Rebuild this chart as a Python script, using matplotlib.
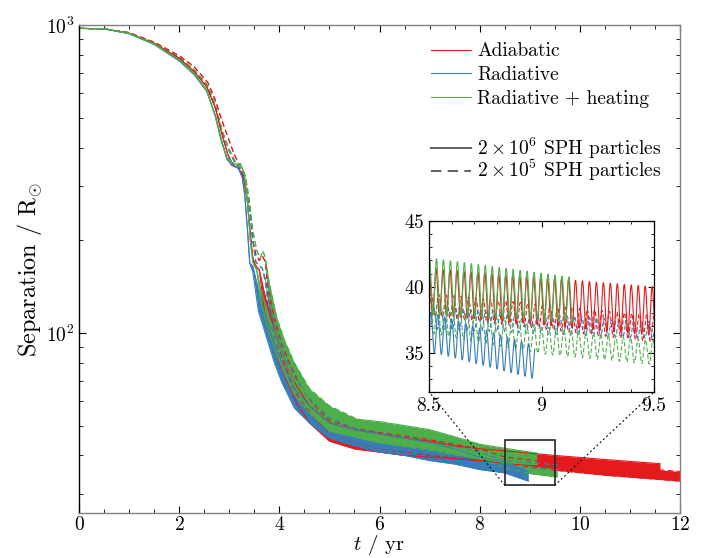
import numpy as np
import matplotlib
matplotlib.use('Agg')
import matplotlib.pyplot as plt
from matplotlib.patches import Rectangle, ConnectionPatch
from matplotlib.lines import Line2D
from matplotlib.ticker import MultipleLocator, LogLocator, NullFormatter

plt.rcParams['font.family'] = ['cmr10', 'DejaVu Serif']
plt.rcParams['mathtext.fontset'] = 'cm'
plt.rcParams['axes.formatter.use_mathtext'] = True
plt.rcParams['axes.unicode_minus'] = False

red = '#e41a1c'
blue = '#377eb8'
green = '#4daf4a'

# --- separation envelopes (upper, lower), R_sun ---
# 2e6 particles (solid)
adi_hi_t = [0, 0.5, 1.0, 1.5, 2.0, 2.3, 2.55, 2.72, 2.85, 2.97, 3.07, 3.2, 3.28, 3.36, 3.42, 3.47, 3.52, 3.6, 3.7, 3.85, 4.0, 4.15, 4.35, 4.6, 5.0, 5.5, 6.0, 6.5, 7.0, 7.5, 8.0, 8.5, 9.5, 10.5, 11.6]
adi_hi_up = [975, 972, 940, 872, 780, 705, 630, 540, 445, 380, 352, 340, 320, 270, 210, 175, 166, 160, 135, 108, 90, 78, 67, 58, 51, 48.5, 47, 45.5, 44.5, 43, 42, 41.4, 40, 38.8, 37.6]
adi_hi_lo = [975, 972, 940, 872, 780, 705, 630, 540, 445, 380, 352, 340, 320, 270, 210, 175, 166, 160, 118, 96, 80, 70, 59, 51, 44.5, 42, 41, 40, 39.5, 39, 38.5, 37.9, 36.3, 35.7, 35.0]

rad_hi_t = [0, 0.5, 1.0, 1.5, 2.0, 2.3, 2.55, 2.72, 2.85, 2.95, 3.05, 3.18, 3.26, 3.31, 3.36, 3.41, 3.47, 3.58, 3.75, 3.9, 4.05, 4.3, 4.6, 5.0, 5.5, 6.0, 6.5, 7.0, 7.5, 8.0, 8.5, 8.97]
rad_hi_up = [975, 972, 938, 865, 765, 690, 610, 510, 420, 368, 350, 343, 320, 280, 220, 168, 165, 138, 110, 92, 80, 66, 58, 51, 48.5, 47, 45.5, 44, 42, 39.5, 38.1, 35.5]
rad_hi_lo = [975, 972, 938, 865, 765, 690, 610, 510, 420, 368, 350, 343, 320, 280, 220, 168, 158, 118, 96, 80, 69, 57, 51, 45.5, 43, 41, 40, 38.5, 37.5, 36, 35.1, 33.0]

radh_hi_t = [0, 0.5, 1.0, 1.5, 2.0, 2.3, 2.55, 2.72, 2.85, 2.95, 3.05, 3.15, 3.22, 3.3, 3.36, 3.42, 3.47, 3.55, 3.62, 3.8, 3.95, 4.1, 4.3, 4.6, 5.0, 5.5, 6.0, 6.5, 7.0, 7.5, 8.0, 8.5, 9.14]
radh_hi_up = [975, 972, 938, 868, 770, 695, 615, 505, 415, 372, 358, 352, 355, 330, 270, 200, 170, 160, 140, 112, 95, 82, 70, 62, 54, 52.5, 51.5, 50, 48.5, 46, 43.5, 42.2, 40.7]
radh_hi_lo = [975, 972, 938, 868, 770, 695, 615, 505, 415, 372, 358, 352, 355, 330, 270, 200, 170, 160, 128, 100, 85, 74, 63, 55, 48, 46, 44, 43, 42, 40.5, 39, 37.9, 37.3]

# 2e5 particles (dashed)
adi_lo_t = [0, 0.5, 1.0, 1.5, 2.0, 2.3, 2.58, 2.72, 2.85, 2.98, 3.1, 3.2, 3.3, 3.4, 3.47, 3.53, 3.6, 3.66, 3.72, 3.78, 3.9, 4.05, 4.2, 4.4, 4.7, 5.0, 5.5, 6.0, 7.0, 8.0, 8.5, 9.5, 10.5, 12.0]
adi_lo_up = [975, 972, 945, 880, 795, 732, 647, 571, 491, 429, 380, 350, 320, 260, 200, 180, 172, 178, 170, 140, 112, 92, 80, 68, 58, 52, 49, 47.5, 45, 42, 39.5, 37.8, 37, 35.5]
adi_lo_lo = [975, 972, 945, 880, 795, 732, 647, 571, 491, 429, 380, 350, 320, 260, 200, 180, 172, 178, 170, 130, 100, 84, 72, 61, 53, 47, 44, 42, 40, 38.5, 37.8, 35.8, 34.5, 33.0]

rad_lo_t = [0, 0.5, 1.0, 1.5, 2.0, 2.3, 2.58, 2.72, 2.85, 2.98, 3.1, 3.22, 3.32, 3.4, 3.47, 3.53, 3.58, 3.66, 3.72, 3.8, 3.95, 4.1, 4.3, 4.6, 5.0, 5.5, 6.0, 7.0, 8.0, 8.5, 9.6]
rad_lo_up = [975, 972, 942, 875, 785, 715, 630, 545, 455, 395, 360, 340, 320, 260, 200, 170, 166, 162, 150, 125, 100, 85, 72, 61, 53, 49, 47, 44.5, 41, 38.5, 37.2]
rad_lo_lo = [975, 972, 942, 875, 785, 715, 630, 545, 455, 395, 360, 340, 320, 260, 200, 170, 166, 162, 145, 112, 90, 77, 64, 54, 47, 44, 42, 39.5, 37.5, 36.8, 36.0]

radh_lo_t = [0, 0.5, 1.0, 1.5, 2.0, 2.3, 2.58, 2.72, 2.85, 2.98, 3.1, 3.22, 3.32, 3.4, 3.47, 3.55, 3.62, 3.67, 3.72, 3.8, 3.95, 4.1, 4.3, 4.6, 5.0, 5.5, 6.0, 7.0, 8.0, 8.5, 9.0, 9.55]
radh_lo_up = [975, 972, 942, 875, 785, 715, 632, 550, 460, 400, 365, 345, 325, 270, 215, 185, 175, 185, 175, 145, 112, 95, 80, 66, 58, 53, 50, 47, 43.5, 39, 37, 35.8]
radh_lo_lo = [975, 972, 942, 875, 785, 715, 632, 550, 460, 400, 365, 345, 325, 270, 215, 185, 175, 185, 175, 130, 100, 85, 70, 58, 50, 46, 44, 41.5, 39, 36.5, 34.9, 34.0]

# orbital period seen in the zoom panel (yr), ~32 cycles per yr
period_hi = 0.031
period_lo = 0.033

series = [
    # t, upper, lower, colour, dashed, period, phase
    (adi_lo_t, adi_lo_up, adi_lo_lo, red, True, period_lo, 0.010),
    (rad_lo_t, rad_lo_up, rad_lo_lo, blue, True, period_lo, 0.020),
    (radh_lo_t, radh_lo_up, radh_lo_lo, green, True, period_lo, 0.005),
    (adi_hi_t, adi_hi_up, adi_hi_lo, red, False, period_hi, 0.0),
    (rad_hi_t, rad_hi_up, rad_hi_lo, blue, False, period_hi, 0.008),
    (radh_hi_t, radh_hi_up, radh_hi_lo, green, False, period_hi, 0.002),
]

fs_tick = 14

fig = plt.figure(figsize=(7.08, 5.58), dpi=100)
ax = fig.add_axes([0.1116, 0.0806, 0.8489, 0.8746])

for t, up, lo, c, dashed, P, ph in series:
    ls = (0, (5, 3)) if dashed else '-'
    ax.fill_between(t, lo, up, color=c, lw=0)
    ax.plot(t, up, color=c, lw=0.8, ls=ls)
    ax.plot(t, lo, color=c, lw=0.8, ls=ls)

ax.set_yscale('log')
ax.set_xlim(0, 12)
ax.set_ylim(26, 1000)
ax.xaxis.set_major_locator(MultipleLocator(2))
ax.xaxis.set_minor_locator(MultipleLocator(0.5))
ax.yaxis.set_major_locator(LogLocator(base=10))
ax.yaxis.set_minor_locator(LogLocator(base=10, subs=np.arange(2, 10)))
ax.yaxis.set_minor_formatter(NullFormatter())
ax.tick_params(which='both', direction='in', top=True, right=True, labelsize=fs_tick)
ax.tick_params(which='major', length=5)
ax.tick_params(which='minor', length=3)
ax.tick_params(axis='x', pad=2)
for s in ['top', 'right', 'bottom']:
    ax.spines[s].set_color('0.5')
ax.spines['left'].set_color('k')
for s in ax.spines.values():
    s.set_linewidth(1.0)
ax.set_ylabel(r'Separation / R$_{\odot}$', fontsize=17.5, labelpad=1)
# x label placed at the very bottom of the figure, as in the original
fig.text(0.536, 0.002, '$t$ / yr', fontsize=15, ha='center', va='bottom')

model_handles = [
    Line2D([], [], color=red, lw=0.8),
    Line2D([], [], color=blue, lw=0.8),
    Line2D([], [], color=green, lw=0.8),
]
model_labels = ['Adiabatic', 'Radiative', 'Radiative + heating']
res_handles = [
    Line2D([], [], color='0.4', lw=1.5),
    Line2D([], [], color='0.4', lw=1.5, ls=(0, (5, 3))),
]
res_labels = [r'$2\times10^6$ SPH particles', r'$2\times10^5$ SPH particles']

leg1 = ax.legend(model_handles, model_labels, loc='upper left', frameon=False,
                 fontsize=fs_tick, handlelength=2.1, handletextpad=0.3,
                 labelspacing=0.3, borderaxespad=0,
                 bbox_to_anchor=(0.572, 0.98))
ax.add_artist(leg1)
ax.legend(res_handles, res_labels, loc='upper left', frameon=False,
          fontsize=fs_tick, handlelength=2.1, handletextpad=0.3,
          labelspacing=-0.12, borderaxespad=0,
          bbox_to_anchor=(0.572, 0.79))

# zoom box on main axes
x0, x1, y0, y1 = 8.5, 9.5, 32, 45
ax.add_patch(Rectangle((x0, y0), x1 - x0, y1 - y0, fill=False, ec='0.15', lw=1.2, zorder=5))

# inset
axins = fig.add_axes([0.606, 0.2975, 0.3177, 0.3065])
for t, up, lo, c, dashed, P, ph in series:
    a = max(t[0], 8.45)
    b = min(t[-1], 9.55)
    if b <= a:
        continue
    tt = np.linspace(a, b, 2000)
    u = np.interp(tt, t, up)
    l = np.interp(tt, t, lo)
    yy = 0.5 * (u + l) + 0.5 * (u - l) * np.cos(2 * np.pi * (tt - 8.5 - ph) / P)
    ls = (0, (4, 2)) if dashed else '-'
    axins.plot(tt, yy, color=c, lw=0.8, ls=ls)

axins.set_xlim(x0, x1)
axins.set_ylim(y0, y1)
axins.set_xticks([8.5, 9, 9.5])
axins.set_xticklabels(['8.5', '9', '9.5'])
axins.set_yticks([35, 40, 45])
axins.xaxis.set_minor_locator(MultipleLocator(0.1))
axins.yaxis.set_minor_locator(MultipleLocator(1))
axins.tick_params(which='both', direction='in', top=True, right=True, labelsize=fs_tick)
axins.tick_params(which='major', length=4)
axins.tick_params(which='minor', length=2.5)
for s in axins.spines.values():
    s.set_color('k')
    s.set_linewidth(0.9)

for xa, xb in [(x0, 0), (x1, 1)]:
    con = ConnectionPatch(xyA=(xa, y0), coordsA=ax.transData,
                          xyB=(xb, 0), coordsB=axins.transAxes,
                          color='k', lw=0.8, ls=(0, (1, 3)))
    fig.add_artist(con)

fig.savefig('out.png', dpi=100)
